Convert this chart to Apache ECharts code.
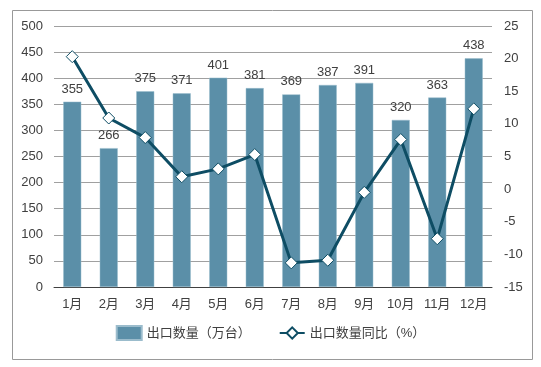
<!DOCTYPE html>
<html><head><meta charset="utf-8">
<script src="https://cdn.jsdelivr.net/npm/echarts@6/dist/echarts.min.js"></script>
<style>html,body{margin:0;padding:0;background:#fff}#c{width:541px;height:367px}</style>
</head><body><div id="c"></div>
<script>
const categories = ['1月','2月','3月','4月','5月','6月','7月','8月','9月','10月','11月','12月'];
const exportQty = [355,266,375,371,401,381,369,387,391,320,363,438];
const yoy = [20.3,10.9,7.9,1.9,3.1,5.3,-11.3,-10.9,-0.5,7.6,-7.6,12.3];
const leftTicks = [0,500,50];
const rightTicks = [-15,25,5];
const FONT = '"Liberation Sans", "Noto Sans CJK SC", sans-serif';
const chart = echarts.init(document.getElementById('c'), null, {renderer:'canvas'});
chart.setOption({
  animation:false,
  textStyle:{fontFamily:FONT},
  graphic:[{type:'rect',shape:{x:12.5,y:10.5,width:520,height:349},style:{fill:'none',stroke:'#999',lineWidth:1},silent:true}],
  grid:{left:54,right:49,top:26,bottom:80},
  legend:{bottom:21,left:'center',itemGap:28,textStyle:{fontSize:13,color:'#404040',fontFamily:FONT},
    data:[{name:'出口数量（万台）',icon:'rect',itemWidth:28,itemHeight:10},{name:'出口数量同比（%）',itemWidth:32,itemHeight:12}]},
  xAxis:{type:'category',data:categories,
    axisLine:{lineStyle:{color:'#404040',width:1}},axisTick:{show:false},
    axisLabel:{color:'#404040',fontSize:13,margin:11,fontFamily:FONT}},
  yAxis:[
    {type:'value',min:leftTicks[0],max:leftTicks[1],interval:leftTicks[2],
      axisLine:{show:false},axisTick:{show:false},
      axisLabel:{color:'#404040',fontSize:13,margin:11,fontFamily:FONT},
      splitLine:{lineStyle:{color:'#a0a0a0',width:1}}},
    {type:'value',min:rightTicks[0],max:rightTicks[1],interval:rightTicks[2],
      axisLine:{show:false},axisTick:{show:false},
      axisLabel:{color:'#404040',fontSize:13,margin:12,fontFamily:FONT},
      splitLine:{show:false}}
  ],
  series:[
    {name:'出口数量（万台）',type:'bar',data:exportQty,barWidth:18,
      itemStyle:{color:'#5B8FA8',borderColor:'#9bbccc',borderWidth:0.5},
      label:{show:true,position:'top',color:'#404040',fontSize:13,distance:6,fontFamily:FONT}},
    {name:'出口数量同比（%）',type:'line',yAxisIndex:1,data:yoy,
      symbol:'diamond',symbolSize:12,
      lineStyle:{color:'#0E4D64',width:3},
      itemStyle:{color:'#ffffff',borderColor:'#0E4D64',borderWidth:1}}
  ]
});
</script></body></html>
